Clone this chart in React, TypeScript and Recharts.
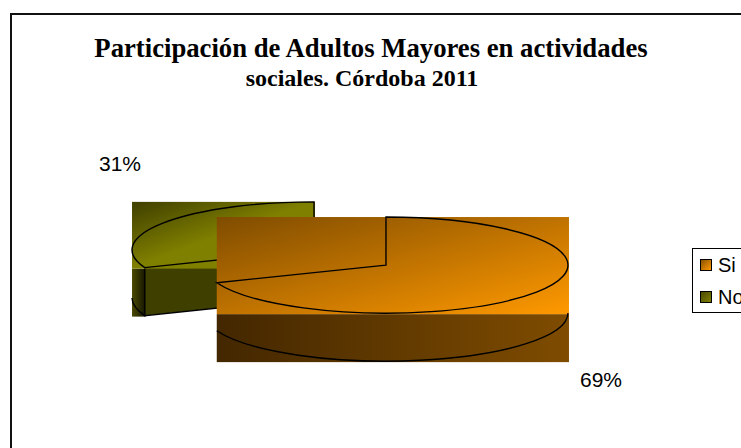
import { PieChart, Pie, Legend } from "recharts";

const categories = ["Si", "No"];
const percents = [69, 31];

// drawn No first so Si overlaps it, going counter-clockwise from 12 o'clock
const pieData = categories
  .map((name, i) => ({ name, value: percents[i] }))
  .reverse();

const TILT = 0.264; // flattening of the fake 3d disc
const EXPLODE_TILT = 0.31;
const DEPTH = 48;
const EXPLODE = 43.5;

const looks: any = {
  Si: { top: ["#7f4c00", "#ff9900"], side: ["#432700", "#7f4c00"], face: "#7f4c00", swatch: ["#8a5200", "#ff9900"], label: [251, 122] },
  No: { top: ["#3f3f00", "#808000"], side: ["#4a4a00", "#141400"], face: "#3f3f00", swatch: ["#4a4a00", "#808000"], label: [-230, -94] },
};

const rad = (d: number) => (d * Math.PI) / 180;

const SliceShape = (props: any) => {
  const { cx, cy, outerRadius: R, startAngle, endAngle, midAngle, name } = props;
  const look = looks[name];
  const ax = cx + EXPLODE * Math.cos(rad(midAngle));
  const ay = cy - EXPLODE * Math.sin(rad(midAngle)) * EXPLODE_TILT;
  const pt = (a: number) => [ax + R * Math.cos(rad(a)), ay - R * Math.sin(rad(a)) * TILT];

  const xs = [ax];
  const ys = [ay];
  const wallXs: number[] = [];
  const wallAngles: number[] = [];
  for (let a = startAngle; a <= endAngle + 0.001; a += 0.2) {
    const [x, y] = pt(a);
    xs.push(x);
    ys.push(y);
    if (Math.sin(rad(a)) <= 0) {
      wallXs.push(x);
      wallAngles.push(a);
    }
  }
  const left = Math.min(...xs);
  const right = Math.max(...xs) + 1;
  const top = Math.min(...ys);
  const bottom = Math.max(...ys) + 1;

  const [sx, sy] = pt(startAngle);
  const [ex, ey] = pt(endAngle);
  const large = endAngle - startAngle > 180 ? 1 : 0;
  const arc = `A${R} ${R * TILT} 0`;
  const outline = `M${ax} ${ay}L${sx} ${sy}${arc} ${large} 0 ${ex} ${ey}Z`;

  const w0 = pt(wallAngles[0]);
  const w1 = pt(wallAngles[wallAngles.length - 1]);
  const wallLarge = wallAngles[wallAngles.length - 1] - wallAngles[0] > 180 ? 1 : 0;
  const wallLine = `M${w0[0]} ${w0[1] + DEPTH}${arc} ${wallLarge} 0 ${w1[0]} ${w1[1] + DEPTH}`;

  // only the cut edge that faces the viewer gets a face
  const faceAngle = Math.cos(rad(endAngle)) < -0.01 ? endAngle : Math.cos(rad(startAngle)) > 0.01 ? startAngle : null;
  const fp = faceAngle === null ? null : pt(faceAngle);

  return (
    <g>
      <defs>
        <linearGradient id={`top-${name}`} x1="0" y1="0" x2="1" y2="1">
          <stop offset="0%" stopColor={look.top[0]} />
          <stop offset={name === "No" ? "50%" : "100%"} stopColor={look.top[1]} />
        </linearGradient>
        <linearGradient id={`side-${name}`} x1="0" y1="0" x2="1" y2="0">
          <stop offset="0%" stopColor={look.side[0]} />
          <stop offset="100%" stopColor={look.side[1]} />
        </linearGradient>
      </defs>
      <rect x={Math.min(...wallXs)} y={bottom} width={Math.max(...wallXs) - Math.min(...wallXs) + 1} height={DEPTH} fill={`url(#side-${name})`} />
      {fp && <path d={`M${fp[0]} ${fp[1]}L${ax} ${ay}L${ax} ${ay + DEPTH}L${fp[0]} ${fp[1] + DEPTH}Z`} fill={look.face} stroke="#000" strokeWidth={1.4} />}
      <rect x={left} y={top} width={right - left} height={bottom - top} fill={`url(#top-${name})`} />
      <path d={wallLine} fill="none" stroke="#000" strokeWidth={1.4} />
      <path d={outline} fill="none" stroke="#000" strokeWidth={1.4} />
    </g>
  );
};

const sliceLabel = (props: any) => {
  const { cx, cy, name, value } = props;
  const [dx, dy] = looks[name].label;
  return (
    <text x={cx + dx} y={cy + dy} textAnchor="middle" dominantBaseline="central" fontFamily="Liberation Sans" fontSize={21} fill="#000">
      {value}%
    </text>
  );
};

const LegendBox = () => (
  <div style={{ border: "1px solid #000", background: "#fff", height: 63, width: 70, boxSizing: "content-box", fontFamily: "Liberation Sans", fontSize: 20, color: "#000" }}>
    {categories.map((c) => (
      <div key={c} style={{ display: "flex", alignItems: "center", height: 32, paddingLeft: 7 }}>
        <span style={{ width: 10, height: 10, border: "1px solid #000", marginRight: 6, background: `linear-gradient(135deg, ${looks[c].swatch[0]}, ${looks[c].swatch[1]})` }} />
        {c}
      </div>
    ))}
  </div>
);

export default function App() {
  return (
    <div style={{ position: "absolute", left: 0, top: 0, width: 741, height: 448, overflow: "hidden", background: "#fff" }}>
      <div style={{ position: "absolute", left: 10, top: 13, width: 800, height: 500, borderLeft: "2px solid #111", borderTop: "2px solid #111" }} />
      <div style={{ position: "absolute", left: 0, width: 742, top: 33, textAlign: "center", whiteSpace: "nowrap", fontFamily: "Liberation Serif", fontWeight: 700, fontSize: 26.7, lineHeight: "30px", color: "#000" }}>
        Participación de Adultos Mayores en actividades
      </div>
      <div style={{ position: "absolute", left: 0, width: 724, top: 63, textAlign: "center", fontFamily: "Liberation Serif", fontWeight: 700, fontSize: 24, lineHeight: "30px", color: "#000" }}>
        sociales. Córdoba 2011
      </div>
      <div style={{ position: "absolute", left: 0, top: 0 }}>
        <PieChart width={741} height={448} margin={{ top: 0, right: 0, bottom: 0, left: 0 }}>
          <Pie
            data={pieData}
            dataKey="value"
            nameKey="name"
            cx={350}
            cy={257.5}
            outerRadius={182}
            startAngle={90}
            endAngle={450}
            stroke="none"
            shape={SliceShape}
            label={sliceLabel}
            labelLine={false}
            isAnimationActive={false}
          />
          <Legend content={LegendBox} wrapperStyle={{ position: "absolute", left: 692, top: 248, width: 72, bottom: "auto", right: "auto" }} />
        </PieChart>
      </div>
    </div>
  );
}
